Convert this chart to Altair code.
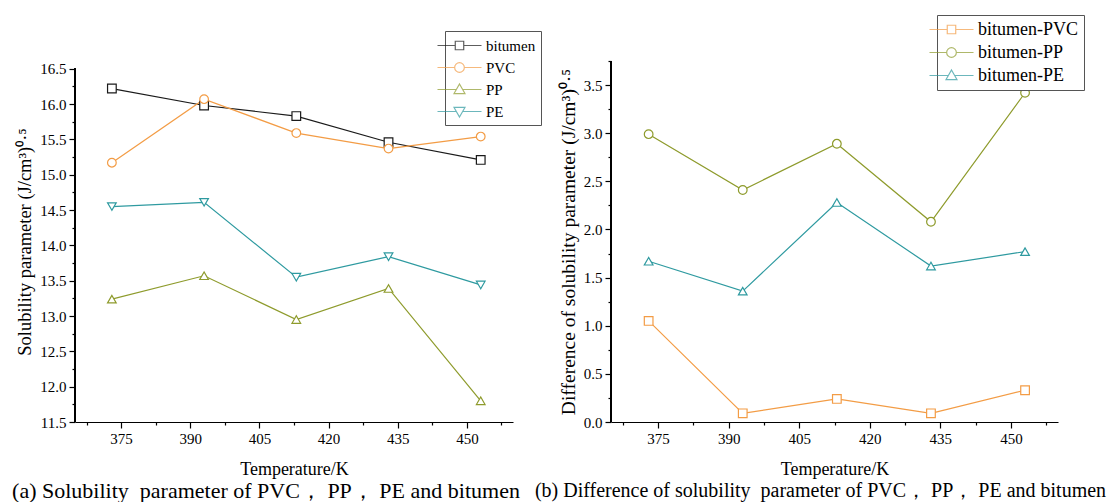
import altair as alt
import pandas as pd

# ---------------- data ----------------
temperature = [373, 393, 413, 433, 453]

series_a = ["bitumen", "PVC", "PP", "PE"]
bitumen = [16.22, 15.98, 15.83, 15.46, 15.21]
pvc = [15.17, 16.07, 15.59, 15.37, 15.54]
pp = [13.24, 13.57, 12.95, 13.39, 11.80]
pe = [14.55, 14.61, 13.55, 13.84, 13.44]

series_b = ["bitumen-PVC", "bitumen-PP", "bitumen-PE"]
d_pvc = [1.05, 0.09, 0.24, 0.09, 0.33]
d_pp = [2.99, 2.41, 2.89, 2.08, 3.42]
d_pe = [1.67, 1.36, 2.28, 1.62, 1.77]

x_major = [375, 390, 405, 420, 435, 450]
x_minor = [367.5, 382.5, 397.5, 412.5, 427.5, 442.5, 457.5]
ya_major = [11.5, 12.0, 12.5, 13.0, 13.5, 14.0, 14.5, 15.0, 15.5, 16.0, 16.5]
ya_minor = [11.75, 12.25, 12.75, 13.25, 13.75, 14.25, 14.75, 15.25, 15.75, 16.25]
yb_major = [0.0, 0.5, 1.0, 1.5, 2.0, 2.5, 3.0, 3.5]
yb_minor = [0.25, 0.75, 1.25, 1.75, 2.25, 2.75, 3.25, 3.75]

colors_a = ["#1a1a1a", "#F39C45", "#8E9B2C", "#2E9AA0"]
colors_b = ["#F39C45", "#8E9B2C", "#2E9AA0"]

df_a = pd.DataFrame({
    "T": temperature * 4,
    "series": [s for s in series_a for _ in temperature],
    "value": bitumen + pvc + pp + pe,
})
df_b = pd.DataFrame({
    "T": temperature * 3,
    "series": [s for s in series_b for _ in temperature],
    "value": d_pvc + d_pp + d_pe,
})

FONT = "Liberation Serif"


def seg(h):
    return f"M-2.5,0H-{h}M{h},0H2.5"


P_SQUARE = seg(0.48) + "M-0.48,-0.48H0.48V0.48H-0.48Z"
P_CIRCLE = seg(0.55) + "M0.55,0A0.55,0.55,0,1,1,-0.55,0A0.55,0.55,0,1,1,0.55,0Z"
P_TUP = seg(0.36) + "M0,-0.62L0.62,0.46L-0.62,0.46Z"
P_TDOWN = seg(0.36) + "M0,0.62L0.62,-0.46L-0.62,-0.46Z"


def panel(df, names, colors, shapes, lpaths, ydom, ymajor, yminor, yfmt,
          ytitle, ytsize, ytop, legx, legy, rowpad, legfont, caption, capsize,
          cap_dx, width, height):
    base = alt.Chart(df)
    xscale = alt.Scale(domain=[365, 460], nice=False, zero=False)
    yscale = alt.Scale(domain=ydom, nice=False, zero=False)

    minor = base.mark_point(opacity=0).encode(
        x=alt.X("T:Q", scale=xscale,
                axis=alt.Axis(orient="bottom", values=x_minor, labels=False,
                              domain=False, grid=False, ticks=True, tickSize=3,
                              title=None)),
        y=alt.Y("value:Q", scale=yscale,
                axis=alt.Axis(orient="left", values=yminor, labels=False,
                              domain=False, grid=False, ticks=True, tickSize=3,
                              title=None)),
    )

    yline = base.mark_rule(color="black", strokeWidth=1.2).encode(
        x=alt.X(datum=365, axis=None),
        y=alt.Y(datum=ydom[0], axis=None),
        y2=alt.datum(ytop),
    )

    lines = base.mark_line(strokeWidth=1.2).encode(
        x=alt.X("T:Q", scale=xscale,
                axis=alt.Axis(orient="bottom", values=x_major, format="d",
                              title="Temperature/K", titleFontSize=18,
                              titlePadding=14, labelFontSize=15,
                              tickSize=6, labelPadding=3, grid=False)),
        y=alt.Y("value:Q", scale=yscale,
                axis=alt.Axis(orient="left", values=ymajor, format=yfmt,
                              title=ytitle, titleFontSize=ytsize, titlePadding=5,
                              labelFontSize=15, tickSize=6, labelPadding=3,
                              domain=False, grid=False)),
        stroke=alt.Stroke("series:N", scale=alt.Scale(domain=names, range=colors),
                          legend=None),
        detail="series:N",
        order=alt.Order("T:Q"),
    )

    pts = base.mark_point(filled=True, fill="white", size=75, strokeWidth=1.2,
                          opacity=1).encode(
        x=alt.X("T:Q", axis=None),
        y=alt.Y("value:Q", axis=None),
        stroke=alt.Stroke("series:N", scale=alt.Scale(domain=names, range=colors),
                          legend=None),
        shape=alt.Shape("series:N", scale=alt.Scale(domain=names, range=shapes),
                        legend=None),
    )

    leg = alt.Legend(orient="none", legendX=legx, legendY=legy, title=None,
                     symbolSize=310, symbolStrokeWidth=1.2, labelFont=FONT,
                     labelFontSize=legfont, labelColor="black", labelOffset=17,
                     rowPadding=rowpad, padding=5, strokeColor="#555",
                     fillColor="white", symbolFillColor="transparent")
    legend_layer = base.transform_filter("false").mark_point(
        filled=False, strokeWidth=1.2).encode(
        shape=alt.Shape("series:N", scale=alt.Scale(domain=names, range=lpaths),
                        legend=leg),
        stroke=alt.Stroke("series:N", scale=alt.Scale(domain=names, range=colors),
                          legend=leg),
    )

    return alt.layer(minor, yline, lines, pts, legend_layer).resolve_scale(
        stroke="independent", shape="independent"
    ).resolve_axis(x="independent", y="independent").properties(
        width=width, height=height,
        title=alt.TitleParams(caption, orient="bottom", anchor="middle",
                              frame="group", font=FONT, fontSize=capsize,
                              fontWeight="normal", color="black", offset=3,
                              dx=cap_dx),
    )


left = panel(df_a, series_a, colors_a,
             ["square", "circle", "triangle-up", "triangle-down"],
             [P_SQUARE, P_CIRCLE, P_TUP, P_TDOWN],
             [11.5, 16.61], ya_major, ya_minor, ".1f",
             "Solubility parameter (J/cm³)⁰·⁵", 18.5, 16.5, 370, -30, 4, 15,
             "(a) Solubility\u00a0 parameter of PVC， PP， PE and bitumen", 22, -28,
             438, 361)

right = panel(df_b, series_b, colors_b,
              ["square", "circle", "triangle-up"],
              [P_SQUARE, P_CIRCLE, P_TUP],
              [0, 3.75], yb_major, yb_minor, ".1f",
              "Difference of solubility parameter (J/cm³)⁰·⁵", 19.5, 3.75, 326, -46, 4, 18,
              "(b) Difference of solubility\u00a0 parameter of PVC， PP， PE and bitumen", 20, -14,
              447, 361)

chart = alt.hconcat(left, right, spacing=98, bounds="flush").properties(
    padding={"left": 4, "top": 6, "right": 0, "bottom": 0},
    background="white",
).configure_view(stroke=None).configure_axis(
    labelFont=FONT, titleFont=FONT, labelColor="black", titleColor="black",
    domainColor="black", tickColor="black", domainWidth=1.2, tickWidth=1.2,
    titleFontWeight="normal",
)

chart.save("out.html", embed_options={"renderer": "svg", "actions": False})
